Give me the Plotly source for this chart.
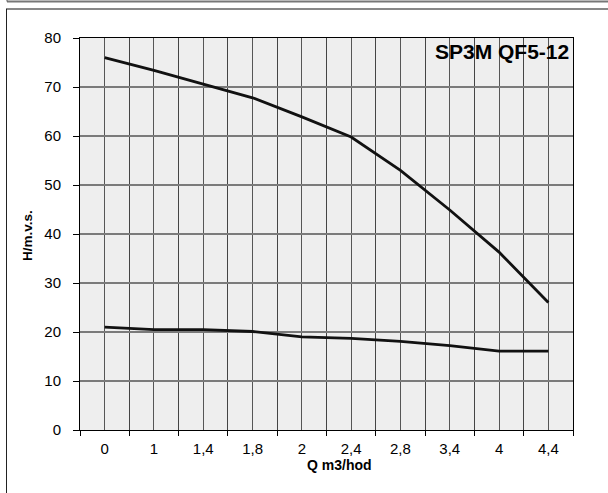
import plotly.graph_objects as go

categories = ["0", "1", "1,4", "1,8", "2", "2,4", "2,8", "3,4", "4", "4,4"]
head_upper = [76.0, 73.4, 70.6, 67.8, 63.9, 59.8, 53.0, 44.9, 36.3, 26.0]
head_lower = [21.0, 20.5, 20.5, 20.1, 19.0, 18.7, 18.1, 17.2, 16.1, 16.1]
y_ticks = [0, 10, 20, 30, 40, 50, 60, 70, 80]

x_idx = list(range(len(categories)))
boundaries = [i - 0.5 for i in range(len(categories) + 1)]

FONT = "Liberation Sans, Arial, sans-serif"

fig = go.Figure()
for series in (head_upper, head_lower):
    fig.add_trace(go.Scatter(
        x=x_idx, y=series, mode="lines",
        line=dict(color="#111111", width=2.8),
        showlegend=False, hoverinfo="skip",
    ))

# page coordinate helpers (plot area 80..573 x 38..430)
L, R, T, B = 80, 573, 38, 430
def px(v):
    return (v - L) / (R - L)
def py(v):
    return (B - v) / (B - T)

fig.update_layout(
    width=608, height=493,
    margin=dict(l=L, r=608 - R, t=T, b=493 - B),
    paper_bgcolor="white",
    plot_bgcolor="#EEEEEE",
    font=dict(family=FONT, size=15, color="black"),
    xaxis=dict(
        range=[-0.5, len(categories) - 0.5],
        tickmode="array", tickvals=x_idx, ticktext=categories,
        ticks="", showgrid=True, gridcolor="#555555", gridwidth=1,
        minor=dict(tickvals=boundaries, ticks="outside", ticklen=5,
                   tickcolor="black", showgrid=True, gridcolor="#444444", gridwidth=1),
        showline=True, linecolor="black", linewidth=1, mirror=True,
        zeroline=False, tickfont=dict(size=15), ticklabelstandoff=5,
    ),
    yaxis=dict(
        range=[0, 80], tickmode="array", tickvals=y_ticks,
        ticks="outside", ticklen=6, tickcolor="black",
        showgrid=True, gridcolor="#7A7A7A", gridwidth=2,
        showline=True, linecolor="black", linewidth=1, mirror=True,
        zeroline=False, tickfont=dict(size=15), ticklabelstandoff=9,
    ),
    annotations=[
        dict(text="<b>SP3M QF5-12</b>", x=px(571), y=py(52), xref="paper", yref="paper",
             xanchor="right", yanchor="middle", showarrow=False,
             font=dict(size=21, family=FONT, color="black")),
        dict(text="<b>Q m3/hod</b>", x=px(339), y=py(465), xref="paper", yref="paper",
             xanchor="center", yanchor="middle", showarrow=False,
             font=dict(size=14, family=FONT, color="black")),
        dict(text="<b>H/m.v.s.</b>", x=px(28), y=py(236), xref="paper", yref="paper",
             xanchor="center", yanchor="middle", showarrow=False, textangle=-90,
             font=dict(size=13.5, family=FONT, color="black")),
    ],
    shapes=[
        dict(type="line", xref="paper", yref="paper", x0=px(7), x1=px(610), y0=py(1.5), y1=py(1.5),
             line=dict(color="#777777", width=2)),
        dict(type="line", xref="paper", yref="paper", x0=px(7), x1=px(7), y0=py(-2), y1=py(1.5),
             line=dict(color="#555555", width=1)),
        dict(type="line", xref="paper", yref="paper", x0=px(6), x1=px(610), y0=py(9), y1=py(9),
             line=dict(color="#888888", width=2)),
        dict(type="line", xref="paper", yref="paper", x0=px(6.5), x1=px(6.5), y0=py(9), y1=py(495),
             line=dict(color="#222222", width=1)),
    ],
)

fig.write_html(
    "out.html",
    config={"displayModeBar": False},
    post_script="document.body.style.margin='0';document.body.style.overflow='hidden';",
)
